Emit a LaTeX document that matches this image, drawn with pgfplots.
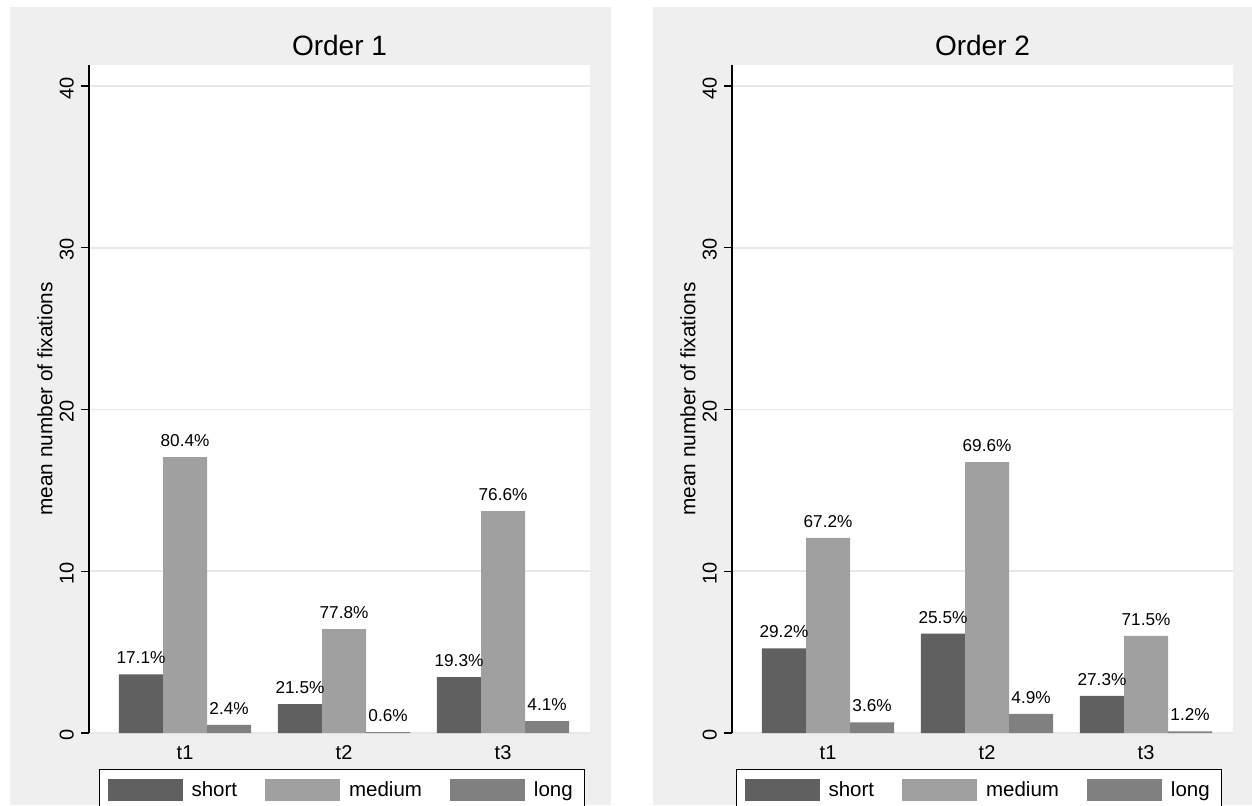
\documentclass[border=0pt]{standalone}
\usepackage{fontspec}
\setmainfont{Liberation Sans}
\usepackage{pgfplots}
\pgfplotsset{compat=1.18}
\definecolor{bg}{RGB}{239,239,239}
\definecolor{gridc}{RGB}{232,232,232}
\definecolor{cshort}{RGB}{96,96,96}
\definecolor{cmed}{RGB}{160,160,160}
\definecolor{clong}{RGB}{128,128,128}

\pgfplotsset{
  panel/.style={
    scale only axis, width=250.5pt, height=334pt,
    anchor=south west,
    ymin=0, ymax=41.3, xmin=0.396, xmax=3.547,
    axis background/.style={fill=white},
    ybar, bar width=0.277,
    axis x line*=bottom, axis y line*=left,
    x axis line style={draw=none},
    y axis line style={black, line width=0.6pt},
    ytick={0,10,20,30,40}, ymajorgrids,
    grid style={draw=gridc, line width=0.8pt},
    tick align=outside, major tick length=4pt,
    ytick style={black, line width=0.6pt},
    xtick={1,2,3}, xticklabels={t1,t2,t3}, xtick style={draw=none},
    yticklabel style={rotate=90, anchor=south, font=\fontsize{10}{12}\selectfont, xshift=-1pt},
    xticklabel style={font=\fontsize{10}{12}\selectfont, anchor=north, inner sep=0pt, yshift=-2pt},
    /pgf/number format/assume math mode=true,
    every axis y label/.style={at={(axis description cs:0,0.5)}, xshift=-22pt, rotate=90, anchor=center, font=\fontsize{10.4}{12}\selectfont},
    every axis title/.style={at={(axis description cs:0.5,1)}, anchor=base, yshift=5pt, font=\fontsize{14}{16}\selectfont},
    nodes near coords={\pgfplotspointmeta\%}, point meta=explicit symbolic,
    every node near coord/.append style={font=\fontsize{8.6}{10}\selectfont, anchor=south, inner sep=0pt, yshift=5pt, black},
    legend image code/.code={\fill[##1] (0pt,-5.5pt) rectangle (37.5pt,5.5pt);},
    legend columns=3,
    legend cell align=left,
    legend style={at={(axis description cs:0,-0.0539)}, anchor=north west,
      draw=black, line width=0.5pt, fill=white, inner xsep=4pt, inner ysep=4pt,
      font=\fontsize{10.25}{12}\selectfont,
      /tikz/every odd column/.append style={column sep=2.5pt},
      /tikz/every even column/.append style={column sep=12pt}},
    ylabel={mean number of fixations},
  }
}

\begin{document}
\begin{tikzpicture}
\useasboundingbox (0,0) rectangle (626pt,402.5pt);
\clip (0,0) rectangle (626pt,402.5pt);
\fill[bg] (5pt,0) rectangle (305.5pt,399pt);
\fill[bg] (326.5pt,0) rectangle (626pt,399pt);

\begin{axis}[panel, at={(44.5pt,36pt)}, title={Order 1}, legend style={xshift=5pt}]
\addplot[fill=cshort, draw=none, bar shift=-0.277] coordinates {(1,3.63)[17.1] (2,1.78)[21.5] (3,3.46)[19.3]};
\addplot[fill=cmed, draw=none, bar shift=0] coordinates {(1,17.06)[80.4] (2,6.43)[77.8] (3,13.72)[76.6]};
\addplot[fill=clong, draw=none, bar shift=0.277] coordinates {(1,0.51)[2.4] (2,0.05)[0.6] (3,0.73)[4.1]};
\legend{short\rule[-6pt]{0pt}{6pt},medium,long\hspace{3pt}}
\end{axis}

\begin{axis}[panel, at={(366pt,36pt)}, title={Order 2}, legend style={xshift=2pt}]
\addplot[fill=cshort, draw=none, bar shift=-0.277] coordinates {(1,5.24)[29.2] (2,6.14)[25.5] (3,2.29)[27.3]};
\addplot[fill=cmed, draw=none, bar shift=0] coordinates {(1,12.06)[67.2] (2,16.75)[69.6] (3,6.00)[71.5]};
\addplot[fill=clong, draw=none, bar shift=0.277] coordinates {(1,0.65)[3.6] (2,1.18)[4.9] (3,0.10)[1.2]};
\legend{short\rule[-6pt]{0pt}{6pt},medium,long\hspace{3pt}}
\end{axis}
\end{tikzpicture}
\end{document}
